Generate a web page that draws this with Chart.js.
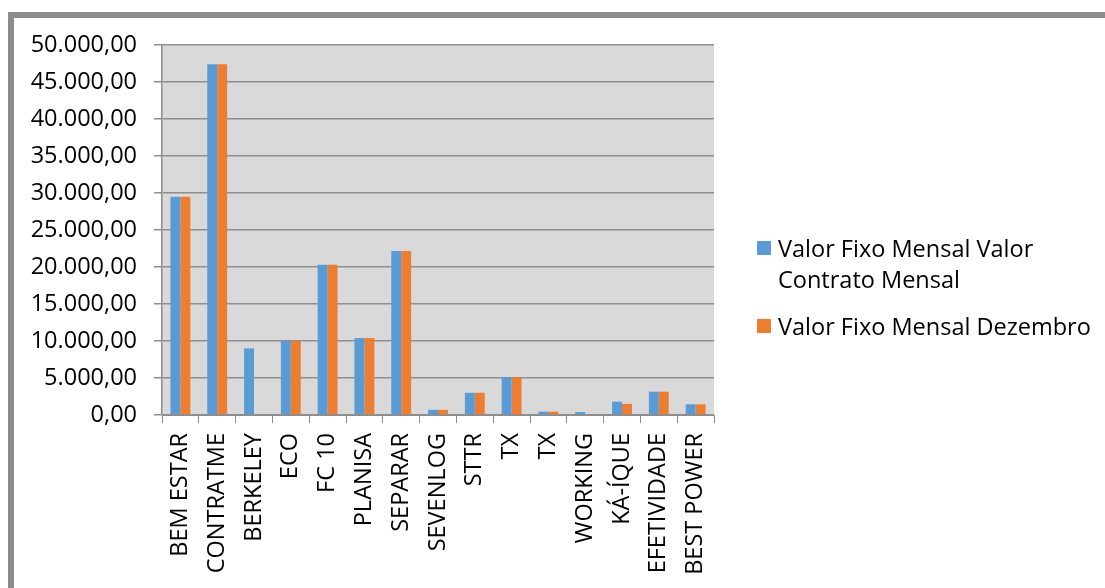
<!DOCTYPE html>
<html lang="pt-BR">
<head>
  <meta charset="UTF-8">
  <title>Valor Fixo Mensal</title>
  <style>
    body {
      margin: 0;
      padding: 0;
      background-color: #fff;
      font-family: "Open Sans", sans-serif;
    }
    .frame {
      position: absolute;
      left: 8px;
      top: 12px;
      width: 1200px;
      height: 700px;
      border-left: 6px solid #8c8c8c;
      border-top: 6px solid #8c8c8c;
    }
    #grafico {
      position: absolute;
      left: 0;
      top: 0;
    }
    .legenda {
      position: absolute;
      left: 757px;
      font-size: 23.5px;
      line-height: 31px;
      color: #000;
    }
    .legenda .caixa {
      position: absolute;
      left: 0;
      width: 14px;
      height: 14px;
    }
    .legenda .texto {
      position: absolute;
      left: 21px;
      white-space: nowrap;
    }
  </style>
</head>
<body>
  <div class="frame"></div>
  <canvas id="grafico" width="1105" height="588"></canvas>

  <div class="legenda" style="top: 233px;">
    <div class="caixa" style="top: 8px; background: #5b9bd5;"></div>
    <div class="texto">Valor Fixo Mensal Valor<br>Contrato Mensal</div>
  </div>
  <div class="legenda" style="top: 311px;">
    <div class="caixa" style="top: 8px; background: #ed7d31;"></div>
    <div class="texto">Valor Fixo Mensal Dezembro</div>
  </div>

  <script src="https://cdn.jsdelivr.net/npm/chart.js"></script>
  <script>
    const categorias = ['BEM ESTAR', 'CONTRATME', 'BERKELEY', 'ECO', 'FC 10', 'PLANISA', 'SEPARAR',
      'SEVENLOG', 'STTR', 'TX', 'TX', 'WORKING', 'KÁ-ÍQUE', 'EFETIVIDADE', 'BEST POWER'];
    const valorContrato = [29500, 47400, 9000, 10000, 20300, 10400, 22150, 700, 3000, 5100, 450, 400, 1800, 3150, 1450];
    const valorDezembro = [29500, 47400, 0, 10000, 20300, 10400, 22150, 700, 3000, 5100, 450, 0, 1500, 3150, 1450];
    const nomesSeries = ['Valor Fixo Mensal Valor Contrato Mensal', 'Valor Fixo Mensal Dezembro'];
    const eixoMax = 50000;
    const eixoPasso = 5000;

    function formatar(v) {
      const partes = v.toFixed(2).split('.');
      return partes[0].replace(/\B(?=(\d{3})+(?!\d))/g, '.') + ',' + partes[1];
    }

    const fundoPlot = {
      id: 'fundoPlot',
      beforeDraw(chart) {
        const a = chart.chartArea;
        const ctx = chart.ctx;
        ctx.save();
        ctx.fillStyle = '#d9d9d9';
        ctx.fillRect(a.left, a.top, a.right - a.left, a.bottom - a.top);
        ctx.restore();
      }
    };

    Chart.defaults.font.family = '"Open Sans", sans-serif';
    Chart.defaults.font.size = 23.5;
    Chart.defaults.color = '#000';

    new Chart(document.getElementById('grafico'), {
      type: 'bar',
      data: {
        labels: categorias,
        datasets: [
          {
            label: nomesSeries[0],
            data: valorContrato,
            backgroundColor: '#5b9bd5',
            barPercentage: 1,
            categoryPercentage: 0.54
          },
          {
            label: nomesSeries[1],
            data: valorDezembro,
            backgroundColor: '#ed7d31',
            barPercentage: 1,
            categoryPercentage: 0.54
          }
        ]
      },
      options: {
        responsive: false,
        animation: false,
        layout: {
          padding: { top: 45, right: 391, left: 0, bottom: 0 }
        },
        plugins: {
          legend: { display: false },
          tooltip: { enabled: false }
        },
        scales: {
          x: {
            offset: true,
            grid: {
              offset: true,
              drawOnChartArea: false,
              drawTicks: true,
              tickLength: 8,
              color: '#8c8c8c'
            },
            border: { color: '#8c8c8c', width: 1 },
            ticks: {
              autoSkip: false,
              minRotation: 90,
              maxRotation: 90,
              padding: 10
            },
            afterFit(scale) {
              scale.height = 173;
            }
          },
          y: {
            min: 0,
            max: eixoMax,
            grid: {
              color: '#8f8f8f',
              lineWidth: 1.5,
              tickLength: 8
            },
            border: { color: '#8c8c8c', width: 1.5 },
            ticks: {
              stepSize: eixoPasso,
              padding: 17,
              callback: (v) => formatar(v)
            },
            afterFit(scale) {
              scale.width = 162;
            }
          }
        }
      },
      plugins: [fundoPlot]
    });
  </script>
</body>
</html>
